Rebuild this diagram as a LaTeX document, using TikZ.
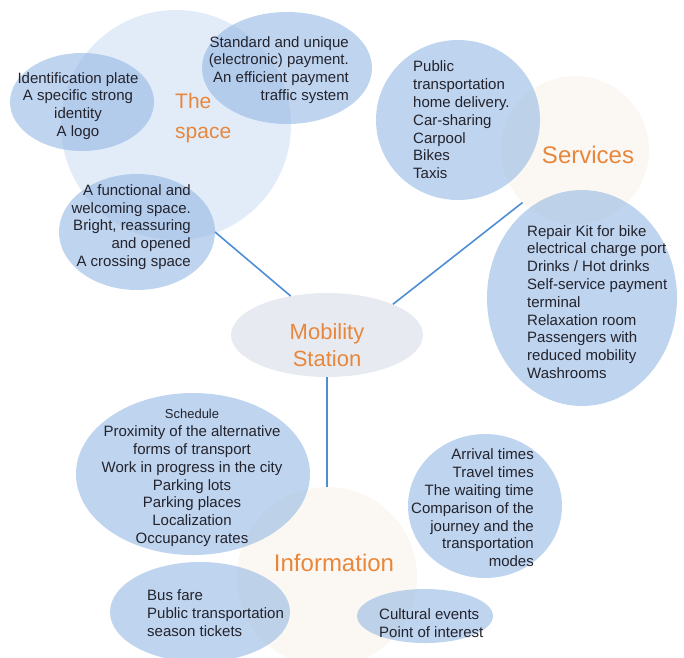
\documentclass[tikz,border=0pt]{standalone}
\usepackage{fontspec}
\setmainfont{Liberation Sans}
\usetikzlibrary{shapes.geometric}

\definecolor{bubbleblue}{RGB}{148,183,227}
\definecolor{spacezone}{RGB}{226,236,248}
\definecolor{creamzone}{RGB}{251,248,243}
\definecolor{stationgray}{RGB}{231,235,241}
\definecolor{headorange}{RGB}{232,135,60}
\definecolor{textdark}{RGB}{35,35,45}
\definecolor{linkblue}{RGB}{78,142,212}

\tikzset{
	zone/.style={circle, inner sep=0pt, draw=none},
	bubble/.style={ellipse, inner sep=0pt, draw=none, fill=bubbleblue, fill opacity=0.6},
	lbl/.style={inner sep=0pt, text=textdark, font=\fontsize{15}{17.8}\selectfont},
	head/.style={inner sep=0pt, text=headorange, font=\fontsize{24}{28}\selectfont},
	link/.style={draw=linkblue, line width=1.6pt},
}

\begin{document}
\begin{tikzpicture}[x=1pt,y=-1pt]
		\useasboundingbox (0,0) rectangle (684,657);
		\clip (0,0) rectangle (684,657);
		%draw big zones
		\node[zone, fill=spacezone, minimum size=230] (space) at (176,125) {};
		\node[zone, fill=creamzone, minimum size=148] (svc) at (575,150) {};
		\node[zone, fill=creamzone, minimum size=180] (info) at (327,577) {};
		\node[ellipse, inner sep=0pt, fill=stationgray, minimum width=192, minimum height=84] (ms) at (327,335) {};
		%draw links
		\draw[link] (ms.133) -- (215,232) coordinate (spaceend);
		\draw[link] (ms.25) -- (svc.225);
		\draw[link] (ms.south) -- (info.north);
		%draw bubbles
		\node[bubble, minimum width=144, minimum height=98] (ident) at (82,102) {};
		\node[bubble, minimum width=170, minimum height=112] (pay) at (287,68) {};
		\node[bubble, minimum width=156, minimum height=116] (func) at (137,232) {};
		\node[bubble, minimum width=164, minimum height=160] (pub) at (458,120) {};
		\node[bubble, minimum width=190, minimum height=216] (repair) at (582,298) {};
		\node[bubble, minimum width=234, minimum height=162] (sched) at (193,474) {};
		\node[bubble, minimum width=180, minimum height=100] (fare) at (200,612) {};
		\node[bubble, minimum width=154, minimum height=144] (arriv) at (485,506) {};
		\node[bubble, minimum width=136, minimum height=54] (cult) at (425,616) {};
		%draw headings
		\node[head, font=\fontsize{21}{30}\selectfont, anchor=west, align=left] (spacehead) at (175,118) {The\\space};
		\node[head, font=\fontsize{22}{27}\selectfont, align=center] (mshead) at (327,345) {Mobility\\Station};
		\node[head] (svchead) at (588,155) {Services};
		\node[head] (infohead) at (334,563) {Information};
		%draw texts
		\node[lbl, align=center] (identtext) at (78,106) {Identification plate\\A specific strong\\identity\\A logo};
		\node[lbl, anchor=east, align=right] (paytext) at (349,70) {Standard and unique\\(electronic) payment.\\An efficient payment\\traffic system};
		\node[lbl, anchor=east, align=right] (functext) at (191,227) {A functional and\\welcoming space.\\Bright, reassuring\\and opened\\A crossing space};
		\node[lbl, anchor=west, align=left] (pubtext) at (413,120) {Public\\transportation\\home delivery.\\Car-sharing\\Carpool\\Bikes\\Taxis};
		\node[lbl, anchor=west, align=left] (repairtext) at (527,302) {Repair Kit for bike\\electrical charge port\\Drinks / Hot drinks\\Self-service payment\\terminal\\Relaxation room\\Passengers with\\reduced mobility\\Washrooms};
		\node[lbl, align=center] (schedtext) at (192,478) {{\fontsize{13}{17.8}\selectfont Schedule}\\Proximity of the alternative\\forms of transport\\Work in progress in the city\\Parking lots\\Parking places\\Localization\\Occupancy rates};
		\node[lbl, anchor=west, align=left] (faretext) at (147,613) {Bus fare\\Public transportation\\season tickets};
		\node[lbl, anchor=east, align=right] (arrivtext) at (534,508) {Arrival times\\Travel times\\The waiting time\\Comparison of the\\journey and the\\transportation\\modes};
		\node[lbl, anchor=west, align=left] (culttext) at (379,623) {Cultural events\\Point of interest};
\end{tikzpicture}
\end{document}
